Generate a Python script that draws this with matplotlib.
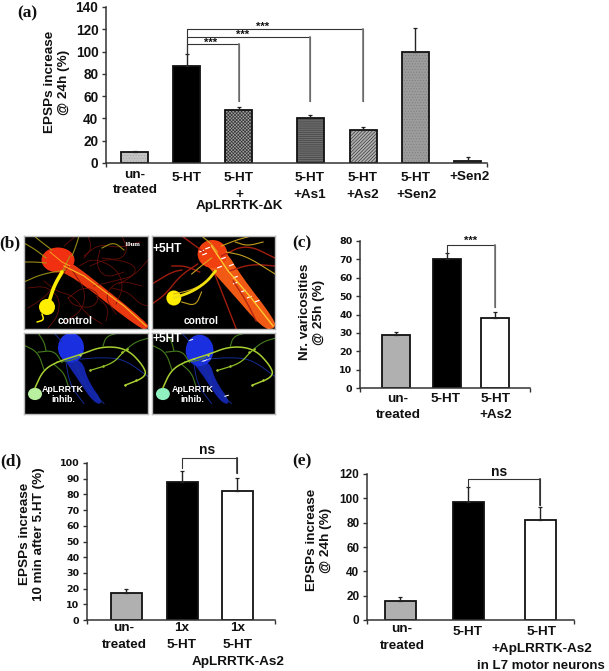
import matplotlib

matplotlib.use("Agg")
import matplotlib.pyplot as plt
from matplotlib.patches import Ellipse, Polygon, Rectangle

W, H = 609, 671
SANS = "Liberation Sans"
SERIF = "Liberation Serif"
AXIS = "#333333"
BRACKET = "#777777"

# panel a
a_values = [9.5, 87, 48, 40, 30, 100, 2]
a_errors = [1.5, 11, 2, 3, 2.5, 21, 3.5]
a_slots = [0, 1.0, 1.99, 3.35, 4.37, 5.36, 6.36]
a_ticks = [0, 20, 40, 60, 80, 100, 120, 140]
# panel c
c_values = [29, 70, 38]
c_errors = [1.5, 3.5, 3.5]
c_ticks = [0, 10, 20, 30, 40, 50, 60, 70, 80]
# panel d
d_values = [17, 88, 82]
d_errors = [3, 7, 8.5]
d_ticks = [0, 10, 20, 30, 40, 50, 60, 70, 80, 90, 100]
# panel e
e_values = [16, 97, 82]
e_errors = [3, 12, 11]
e_ticks = [0, 20, 40, 60, 80, 100, 120]

# bar styles: face, hatch, hatch colour
GREY = ("#b0b0b0", "", "#b0b0b0")
SOLID = ("black", "", "black")
OPEN = ("white", "", "white")
a_styles = [
    ("#c4c4c4", "......", "#a8a8a8"),
    SOLID,
    ("#a0a0a0", "xxxxxxxxxx", "#303030"),
    ("#6c6c6c", "--------", "#404040"),
    ("#b0b0b0", "//////////", "#303030"),
    ("#9c9c9c", "......", "#808080"),
    ("#909090", "", "#909090"),
]
c_styles = [GREY, SOLID, OPEN]

# micrograph sketches, in pixels of a 124x93 picture
ctrl_red = [
    [(45, 30), (30, 50), (20, 62), (4, 72)],
    [(48, 34), (62, 55), (58, 75), (40, 86)],
    [(55, 30), (70, 22), (92, 32), (100, 50), (92, 68)],
    [(60, 20), (75, 8), (95, 12), (116, 6)],
    [(40, 10), (52, 0)],
    [(70, 50), (90, 45), (110, 40), (124, 24)],
    [(20, 45), (32, 55), (50, 60), (62, 78), (78, 88)],
    [(66, 30), (85, 22), (110, 28), (112, 38), (95, 48)],
    [(72, 60), (85, 72), (82, 85)],
    [(44, 62), (60, 50), (76, 58), (70, 72), (50, 70), (44, 62)],
    [(88, 52), (104, 56), (116, 68), (124, 70)],
    [(76, 14), (72, 30), (82, 42), (100, 36)],
    [(4, 52), (22, 50), (36, 62), (34, 80), (24, 92)],
    [(92, 78), (80, 60), (94, 44), (118, 50)],
    [(64, 0), (68, 12), (60, 22)],
    [(98, 0), (104, 14), (96, 24), (78, 22)],
]
ctrl_yellow = [
    [(0, 7), (12, 14), (22, 22)],
    [(0, 26), (12, 26), (22, 27)],
    [(0, 46), (18, 38), (42, 34)],
    [(10, 0), (20, 8), (28, 14)],
    [(55, 0), (52, 10), (48, 20)],
    [(78, 12), (90, 6), (100, 14)],
    [(46, 20), (42, 28), (38, 36)],
]
plus_red = [
    [(0, 68), (14, 58), (28, 40), (46, 28)],
    [(62, 35), (72, 60), (85, 93)],
    [(70, 20), (95, 8), (124, 22)],
    [(78, 35), (100, 28), (124, 30)],
    [(20, 30), (34, 30), (48, 36)],
    [(82, 45), (95, 65), (105, 85)],
    [(30, 0), (44, 10), (52, 16)],
    [(0, 48), (20, 36), (30, 34)],
]
plus_yellow = [
    [(22, 58), (40, 54), (55, 46), (64, 35)],
    [(50, 0), (60, 8), (66, 16)],
    [(70, 10), (85, 4), (100, 0)],
    [(75, 16), (95, 20), (124, 38)],
    [(30, 66), (44, 70), (50, 56)],
    [(40, 38), (52, 28), (60, 22)],
    [(84, 6), (96, 10), (112, 6)],
]
inhib_green = [
    [(11, 63), (19, 43), (33, 33), (56, 25), (79, 15), (103, 18), (119, 37), (123, 50), (101, 60)],
    [(66, 43), (89, 35), (99, 22), (104, 18)],
    [(33, 33), (46, 32), (54, 28)],
    [(20, 42), (14, 22), (0, 14)],
    [(14, 22), (30, 20), (38, 34)],
    [(79, 15), (82, 4), (94, 0)],
    [(103, 18), (112, 10), (124, 6)],
    [(14, 0), (20, 10), (22, 20)],
    [(30, 36), (40, 46), (44, 60)],
]
inhib_blue = [
    [(50, 32), (60, 60), (80, 81)],
    [(42, 34), (46, 60), (60, 81)],
    [(56, 30), (78, 28), (100, 30), (124, 50)],
    [(30, 0), (38, 10)],
]
inhib_beads = [(66, 43), (79, 38), (103, 18), (101, 60), (112, 54), (56, 25), (98, 22)]
ctrl_arrows = []
plus_arrows = [
    (50, 16), (56, 13), (53, 19), (72, 23), (68, 32), (80, 30), (84, 42),
    (84, 48), (92, 56), (98, 62), (106, 66),
]
inhib_arrows = [(39, 9), (42, 31), (52, 33), (57, 31), (75, 73)]


def pixel_axes(fig, left, right, top, bottom, **kwargs):
    return fig.add_axes(
        [left / W, 1 - bottom / H, (right - left) / W, (bottom - top) / H], **kwargs
    )


def put(fig, x, y, text, size=9.7, family=SANS, rotation=0, linespacing=1.1):
    fig.text(
        x / W, 1 - y / H, text, fontsize=size, family=family, fontweight="bold",
        ha="center", va="center", rotation=rotation, linespacing=linespacing,
        color="#111111",
    )


def bar_panel(fig, rect, ymax, ticks, values, errors, slots, xlim, width, styles, tick_font):
    left, right, top, bottom = rect
    ax = pixel_axes(fig, left, right, top, bottom)
    ax.patch.set_alpha(0)
    for slot, value, error, style in zip(slots, values, errors, styles):
        face, hatch, hatch_color = style
        ax.bar(slot, value, width, color=face, hatch=hatch, edgecolor=hatch_color, linewidth=0)
        ax.bar(slot, value, width, fill=False, edgecolor="#111111", linewidth=1.3)
        ax.errorbar(slot, value, yerr=[[0], [error]], color="#222222", capsize=1.2,
                    elinewidth=1.0, capthick=0.9)
    ax.set_xlim(*xlim)
    ax.set_ylim(0, ymax)
    ax.set_yticks(ticks)
    ax.set_xticks(xlim)
    ax.set_xticklabels([])
    ax.tick_params(axis="both", length=3, width=1, color=AXIS, pad=2.5)
    family, size = tick_font
    for label in ax.get_yticklabels():
        label.set_fontfamily(family)
        label.set_fontsize(size)
        label.set_fontweight("bold")
        label.set_color("#111111")
    for side in ("top", "right"):
        ax.spines[side].set_visible(False)
    for side in ("left", "bottom"):
        ax.spines[side].set_color(AXIS)
        ax.spines[side].set_linewidth(1.1)
    return ax


def bracket(ax, x0, x1, level, drop0, drop1, color=BRACKET):
    ax.plot([x0, x0, x1, x1], [drop0, level, level, drop1], color=AXIS, lw=0.8, clip_on=False)
    ax.plot([x1, x1], [level, drop1], color=color, lw=1.2, clip_on=False)


def smooth(points, rounds=3):
    # corner cutting, so the neurites curve instead of bending
    for _ in range(rounds):
        out = [points[0]]
        for (x0, y0), (x1, y1) in zip(points, points[1:]):
            out.append((0.75 * x0 + 0.25 * x1, 0.75 * y0 + 0.25 * y1))
            out.append((0.25 * x0 + 0.75 * x1, 0.25 * y0 + 0.75 * y1))
        out.append(points[-1])
        points = out
    return points


def micrograph(fig, left, right, top, bottom, thin, bold, soma, trunk, cell, cell_color, arrows):
    ax = pixel_axes(fig, left, right, top, bottom)
    ax.set_xlim(0, 124)
    ax.set_ylim(93, 0)
    ax.set_facecolor("black")
    ax.set_xticks([])
    ax.set_yticks([])
    for spine in ax.spines.values():
        spine.set_color("#bbbbbb")
        spine.set_linewidth(1.0)
    for path, color, lw in thin:
        ax.plot(*zip(*smooth(path)), color=color, lw=lw, alpha=0.9)
    ax.add_patch(Polygon(smooth(trunk[0], 2), closed=True, color=trunk[1], lw=0))
    ax.add_patch(Ellipse(soma[0], soma[1], soma[2], color=soma[3], lw=0))
    for path, color, lw in bold:
        ax.plot(*zip(*smooth(path)), color=color, lw=lw, solid_capstyle="round")
    ax.add_patch(Ellipse(cell[0], cell[1], cell[1], color=cell_color, lw=0))
    for x, y in arrows:
        ax.add_patch(Rectangle((x - 2.5, y - 0.6), 5, 1.2, angle=-20, color="white", lw=0))
    return ax


def img_text(ax, x, y, text, size=7.4):
    ax.text(x, y, text, color="white", fontsize=size, family=SANS, fontweight="bold",
            ha="center", va="center", linespacing=1.0)


fig = plt.figure(figsize=(W / 100, H / 100), dpi=100, facecolor="white")
plt.rcParams["hatch.linewidth"] = 0.45

# (a)
slot_w = 52.4
a_xlim = (-(134.5 - 106) / slot_w, (487 - 134.5) / slot_w)
ax_a = bar_panel(fig, (106, 487, 7, 163), 140, a_ticks, a_values, a_errors, a_slots, a_xlim,
                 0.515, a_styles, (SANS, 9.8))
bracket(ax_a, a_slots[1], a_slots[4], 120, 98, 56)
bracket(ax_a, a_slots[1], a_slots[3], 113.5, 98, 56)
bracket(ax_a, a_slots[1], a_slots[2], 106.5, 98, 56)
put(fig, 263, 27, "***", 8)
put(fig, 243, 35, "***", 8)
put(fig, 211, 42.5, "***", 8)
put(fig, 57, 82, "EPSPs increase\n@ 24h (%)", rotation=90, linespacing=1.15)
for x, y, text in [
    (135, 175, "un-"), (135, 190, "treated"), (187, 178, "5-HT"), (239, 178, "5-HT"),
    (310, 178, "5-HT"), (310, 195, "+As1"),
    (363, 178, "5-HT"), (363, 195, "+As2"), (416, 178, "5-HT"), (416, 195, "+Sen2"),
    (470, 177, "+Sen2"),
]:
    put(fig, x, y, text)
put(fig, 239, 200.5, "+\nApLRRTK-ΔK", linespacing=0.85)

# (b)
red, dark_red, yellow = "#c01808", "#701008", "#e8d820"
ax_b1 = micrograph(
    fig, 24, 148, 236, 329,
    [(p, dark_red, 0.6) for p in ctrl_red] + [(p, "#a89a18", 0.8) for p in ctrl_yellow],
    [([(38, 36), (30, 50), (25, 66)], "#ffee00", 2.6), ([(18, 78), (20, 84), (13, 86)], "#ffee00", 1.1)],
    ((34, 24), 33, 25, "#f03010"),
    ([(42, 24), (58, 34), (124, 87), (124, 93), (116, 93), (56, 46), (38, 36)], "#e83810"),
    ((23, 71), 16), "#ffee00", ctrl_arrows,
)
ax_b1.plot([40, 60, 100, 122], [30, 40, 70, 90], color="#ffb020", lw=0.9)
ax_b1.plot([26, 38, 46], [16, 26, 30], color="#ffa020", lw=0.7)
img_text(ax_b1, 51, 85, "control")
ax_b1.text(108, 9, "10um", color="white", fontsize=4.8, family=SERIF, fontweight="bold",
           ha="center", va="center")
ax_b2 = micrograph(
    fig, 152, 275, 236, 329,
    [(p, "#b02010", 1.0) for p in plus_red] + [(p, "#d8b020", 0.8) for p in plus_yellow],
    [([(22, 62), (40, 56), (55, 46), (64, 35)], "#f0e010", 2.0)],
    ((61, 18), 30, 28, "#f04010"),
    ([(58, 8), (74, 14), (90, 40), (124, 84), (124, 93), (112, 93), (76, 52), (54, 28)], "#f05a14"),
    ((22, 62), 15), "#ffee00", plus_arrows,
)
ax_b2.plot([60, 76, 100, 122], [10, 34, 62, 90], color="#ffc830", lw=1.0)
img_text(ax_b2, 50, 85, "control")
img_text(ax_b2, 15, 13, "+5HT", 8.6)
green_thin = [(p, "#4c8a20", 0.8) for p in inhib_green[2:]]
blue_thin = [(p, "#1530a0", 0.7) for p in inhib_blue]
green_bold = [(inhib_green[0], "#a8d030", 1.1), (inhib_green[1], "#90c028", 0.9)]
ax_b3 = micrograph(
    fig, 24, 148, 333, 414,
    blue_thin + green_thin, green_bold,
    ((47, 17), 26, 34, "#1a30e0"),
    ([(40, 30), (58, 30), (64, 55), (80, 81), (70, 81), (52, 50)], "#1424a8"),
    ((11, 70), 14), "#b8f0a0", [],
)
ax_b3.scatter(*zip(*inhib_beads), s=3, color="#c8e040", linewidths=0)
img_text(ax_b3, 39, 65, "ApLRRTK", 6.4)
img_text(ax_b3, 39, 76, "inhib.", 6.4)
ax_b4 = micrograph(
    fig, 152, 275, 333, 414,
    blue_thin + green_thin, green_bold,
    ((48, 20), 28, 36, "#1a30e0"),
    ([(40, 32), (58, 32), (64, 55), (80, 81), (70, 81), (52, 50)], "#1424a8"),
    ((11, 70), 14), "#90f0c0", inhib_arrows,
)
ax_b4.scatter(*zip(*inhib_beads), s=3, color="#c8e040", linewidths=0)
img_text(ax_b4, 41, 65, "ApLRRTK", 6.4)
img_text(ax_b4, 41, 76, "inhib.", 6.4)
img_text(ax_b4, 15, 7, "+5HT", 8.6)

# (c)
c_slots = [396, 447, 495]
ax_c = bar_panel(fig, (360, 530, 241, 388), 80, c_ticks, c_values, c_errors, c_slots,
                 (360, 530), 28, c_styles, ("DejaVu Sans", 6.8))
bracket(ax_c, c_slots[1], c_slots[2], 77.8, 73.5, 44)
put(fig, 471, 240.5, "***", 8)
put(fig, 312, 312, "Nr. varicosities\n@ 25h (%)", rotation=90, linespacing=1.15)
for x, y, text in [
    (398, 399, "un-"), (398, 415, "treated"), (446, 399, "5-HT"), (496, 399, "5-HT"),
    (496, 415, "+As2"),
]:
    put(fig, x, y, text)

# (d)
d_slots = [126, 182, 237]
ax_d = bar_panel(fig, (87, 275, 463, 620), 100, d_ticks, d_values, d_errors, d_slots,
                 (87, 275), 31, c_styles, ("DejaVu Sans", 6.8))
bracket(ax_d, d_slots[1], d_slots[2], 103.2, 97, 93.5, AXIS)
put(fig, 207, 450, "ns", 10)
put(fig, 32, 534, "EPSPs increase\n10 min after 5.HT (%)", rotation=90, linespacing=1.15)
for x, y, text in [
    (124, 628, "un-"), (124, 645, "treated"), (182, 628, "1x"), (182, 645, "5-HT"),
    (238, 628, "1x"), (238, 645, "5-HT"), (238, 662, "ApLRRTK-As2"),
]:
    put(fig, x, y, text)

# (e)
e_slots = [400, 468, 540]
ax_e = bar_panel(fig, (367, 574, 474, 620), 120, e_ticks, e_values, e_errors, e_slots,
                 (367, 574), 31, c_styles, (SANS, 8.5))
bracket(ax_e, e_slots[1], e_slots[2], 116, 109, 94.5, AXIS)
put(fig, 499, 472, "ns", 10)
put(fig, 319, 540, "EPSPs increase\n@ 24h (%)", rotation=90, linespacing=1.15)
for x, y, text in [
    (402, 629, "un-"), (402, 646, "treated"), (468, 632, "5-HT"), (542, 632, "5-HT"),
    (542, 649, "+ApLRRTK-As2"),
]:
    put(fig, x, y, text)
put(fig, 541, 666, "in L7 motor neurons", 9.5)

# panel letters
for x, y, text in [
    (27, 13, "(a)"), (10, 243, "(b)"), (302, 243, "(c)"), (11, 461, "(d)"), (302, 461, "(e)"),
]:
    put(fig, x, y, text, 12.5, SERIF)

fig.savefig("out.png", dpi=100)
plt.close(fig)
